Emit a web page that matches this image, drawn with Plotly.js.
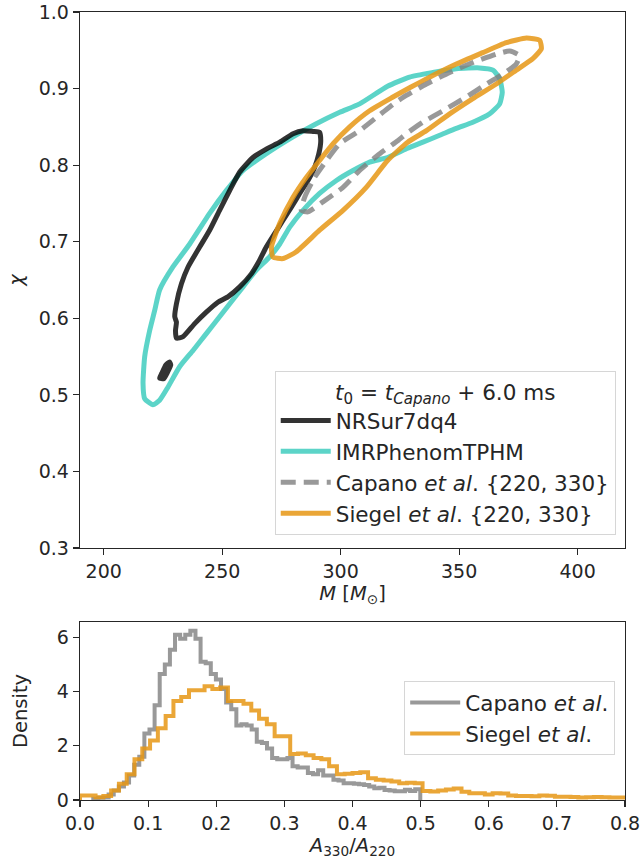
<!DOCTYPE html>
<html>
<head>
<meta charset="utf-8">
<script src="https://cdn.plot.ly/plotly-3.0.1.min.js"></script>
<style>html,body{margin:0;padding:0;background:#fff;}#chart{width:643px;height:867px;}</style>
</head>
<body>
<div id="chart"></div>
<script>
// ---- Top panel: 90% credible contours in (M, chi) ----
const nrsurM   = [284.1,288.3,291.1,291.6,290.8,289.0,286.2,282.7,279.2,275.7,272.2,268.6,265.8,262.3,257.4,252.4,248.2,243.3,238.4,233.5,230.7,230.3,230.7,230.0,230.7,232.8,235.6,240.5,244.7,248.9,253.2,257.4,263.0,268.6,274.3,279.9,284.1];
const nrsurChi = [0.845,0.844,0.843,0.832,0.815,0.797,0.780,0.763,0.745,0.728,0.711,0.693,0.676,0.658,0.641,0.628,0.621,0.608,0.593,0.576,0.574,0.584,0.595,0.602,0.619,0.645,0.667,0.693,0.715,0.741,0.767,0.791,0.810,0.821,0.830,0.841,0.845];
const nrsurIslandM   = [223.6,224.5,226.2,227.8,228.3,227.0,225.3,223.6];
const nrsurIslandChi = [0.522,0.528,0.539,0.543,0.539,0.530,0.521,0.522];

const imrM   = [220.8,217.3,216.6,217.3,219.4,221.5,223.6,229.2,236.3,244.7,251.8,258.8,268.6,279.9,289.7,299.6,308.0,319.8,329.1,338.9,348.8,358.6,364.3,367.1,368.2,367.1,362.9,355.8,348.8,341.8,334.7,328.3,319.8,312.2,305.2,298.2,291.1,284.1,278.5,274.3,270.0,264.4,258.8,253.2,248.9,243.3,237.7,232.1,227.1,223.6,220.8];
const imrChi = [0.487,0.495,0.515,0.550,0.584,0.610,0.637,0.667,0.697,0.737,0.767,0.793,0.815,0.837,0.854,0.869,0.880,0.903,0.915,0.921,0.926,0.927,0.924,0.913,0.895,0.880,0.867,0.856,0.848,0.839,0.830,0.822,0.810,0.804,0.793,0.780,0.763,0.741,0.719,0.697,0.680,0.663,0.641,0.619,0.602,0.580,0.558,0.537,0.510,0.493,0.487];

const capanoM   = [283.4,284.8,289.0,294.0,299.6,308.0,317.8,322.8,327.7,336.2,346.0,355.8,365.7,371.3,375.5,374.1,368.5,361.5,353.0,343.2,334.7,327.7,324.1,316.5,308.0,301.0,292.5,286.2,283.4];
const capanoChi = [0.741,0.758,0.784,0.806,0.828,0.845,0.869,0.881,0.891,0.906,0.921,0.934,0.945,0.949,0.943,0.932,0.919,0.906,0.889,0.871,0.856,0.841,0.832,0.815,0.793,0.771,0.752,0.739,0.741];

const siegelM   = [271.4,270.8,274.3,279.9,285.5,291.1,296.8,303.8,312.2,321.5,329.1,338.9,348.8,360.0,369.9,378.4,384.0,384.7,381.1,374.1,365.7,355.8,346.0,336.2,328.3,319.8,310.8,301.0,291.1,281.3,275.7,271.4];
const siegelChi = [0.680,0.693,0.724,0.758,0.784,0.806,0.828,0.850,0.871,0.888,0.901,0.917,0.932,0.947,0.960,0.966,0.963,0.952,0.939,0.924,0.906,0.887,0.867,0.845,0.830,0.806,0.771,0.741,0.715,0.687,0.678,0.680];

// ---- Bottom panel: A330/A220 histograms (density per bin) ----
const capanoBinStart = 0.0195, capanoBinWidth = 0.0075;
const capanoDensity = [0.05,0.08,0.09,0.2,0.35,0.5,0.65,0.9,1.3,1.6,
  2.45,2.6,3.5,4.65,5.0,5.55,6.1,5.95,6.1,6.25,
  5.95,5.1,5.05,4.65,4.45,4.1,3.6,3.35,2.75,2.8,
  2.75,2.6,2.15,2.1,1.9,1.55,1.5,1.5,1.55,1.25,
  1.2,1.2,1.0,0.95,1.1,0.9,0.9,0.75,0.72,0.62,
  0.62,0.6,0.58,0.55,0.5,0.43,0.45,0.37,0.35,0.32,
  0.32,0.38,0.33,0.4];
const siegelBinStart = 0.0, siegelBinWidth = 0.8/70;
const siegelDensity = [0.17,0.17,0.1,0.15,0.35,0.6,0.95,1.5,1.9,2.2,
  2.65,3.1,3.65,3.8,4.05,4.05,4.2,4.1,4.15,3.65,
  3.65,3.55,3.3,3.0,2.8,2.35,2.35,1.7,1.72,1.65,
  1.55,1.5,1.25,0.95,0.97,1.0,1.02,0.8,0.75,0.72,
  0.68,0.62,0.64,0.62,0.33,0.31,0.35,0.39,0.42,0.3,
  0.25,0.25,0.2,0.25,0.24,0.17,0.15,0.15,0.14,0.17,
  0.16,0.12,0.12,0.11,0.09,0.1,0.11,0.1,0.09,0.09];

const legendTitle = '<i>t</i><sub>0</sub> = <i>t</i><sub><i>Capano</i></sub> + 6.0 ms';
const names = ['NRSur7dq4','IMRPhenomTPHM','Capano <i>et al</i>. {220, 330}','Siegel <i>et al</i>. {220, 330}'];
const histNames = ['Capano <i>et al</i>.','Siegel <i>et al</i>.'];

// styles
const cBlack = 'rgba(0,0,0,0.8)';
const cTeal = 'rgba(64,205,190,0.85)';
const cOrange = 'rgba(230,150,20,0.85)';
const cGray = 'rgba(128,128,128,0.8)';
const txt = '#262626';
const FONT = 'DejaVu Sans, sans-serif';
const FS_TICK = 19;
const FS_LEG = 21.5;
const FS_TITLE = 19.5;

function stepXY(start, w, dens, closeEnd) {
  const x = [start], y = [0];
  for (let i = 0; i < dens.length; i++) { x.push(start + i * w); y.push(dens[i]); }
  if (closeEnd) { x.push(start + dens.length * w); y.push(0); }
  else { x.push(start + dens.length * w); y.push(dens[dens.length - 1]); }
  return {x, y};
}

const capStep = stepXY(capanoBinStart, capanoBinWidth, capanoDensity, true);
const sieStep = stepXY(siegelBinStart, siegelBinWidth, siegelDensity, false);

const contourLine = {shape:'spline', smoothing:0.5};

const data = [
  {x: imrM, y: imrChi, type:'scatter', mode:'lines', name:names[1], legendrank:2,
   line:Object.assign({color:cTeal, width:5}, contourLine), xaxis:'x', yaxis:'y', legend:'legend'},
  {x: nrsurM.concat([null], nrsurIslandM), y: nrsurChi.concat([null], nrsurIslandChi), type:'scatter', mode:'lines',
   name:names[0], legendrank:1, connectgaps:false,
   line:Object.assign({color:cBlack, width:5}, contourLine), xaxis:'x', yaxis:'y', legend:'legend'},
  {x: siegelM, y: siegelChi, type:'scatter', mode:'lines', name:names[3], legendrank:4,
   line:Object.assign({color:cOrange, width:5}, contourLine), xaxis:'x', yaxis:'y', legend:'legend'},
  {x: capanoM, y: capanoChi, type:'scatter', mode:'lines', name:names[2], legendrank:3,
   line:Object.assign({color:cGray, width:5, dash:'15px,8px'}, contourLine), xaxis:'x', yaxis:'y', legend:'legend'},
  {x: capStep.x, y: capStep.y, type:'scatter', mode:'lines', name:histNames[0], legendrank:1,
   line:{color:cGray, width:4, shape:'hv'}, xaxis:'x2', yaxis:'y2', legend:'legend2'},
  {x: sieStep.x, y: sieStep.y, type:'scatter', mode:'lines', name:histNames[1], legendrank:2,
   line:{color:cOrange, width:4, shape:'hv'}, xaxis:'x2', yaxis:'y2', legend:'legend2'}
];

const axBase = {
  showgrid:false, zeroline:false, showline:true, mirror:true, linecolor:txt, linewidth:1.25,
  ticks:'outside', ticklen:6, tickwidth:1.25, tickcolor:txt,
  tickfont:{family:FONT, size:FS_TICK, color:txt}
};
const titleFont = {family:FONT, size:FS_TITLE, color:txt};

const layout = {
  width:643, height:867,
  margin:{l:80, r:18, t:12, b:67},
  paper_bgcolor:'#fff', plot_bgcolor:'#fff',
  font:{family:FONT, size:FS_TICK, color:txt},
  showlegend:true,
  xaxis: Object.assign({}, axBase, {domain:[0,1], anchor:'y', range:[190,420], tickvals:[200,250,300,350,400],
    title:{text:'<i>M</i> [<i>M</i><sub>⊙</sub>]', font:titleFont, standoff:4}}),
  yaxis: Object.assign({}, axBase, {domain:[0.3198,1], anchor:'x', range:[0.3,1.0], dtick:0.1, tick0:0.3, tickformat:'.1f',
    title:{text:'<i>χ</i>', font:titleFont, standoff:10}}),
  xaxis2: Object.assign({}, axBase, {domain:[0,1], anchor:'y2', range:[0,0.8], dtick:0.1, tick0:0, tickformat:'.1f',
    title:{text:'<i>A</i><sub>330</sub>/<i>A</i><sub>220</sub>', font:titleFont, standoff:4}}),
  yaxis2: Object.assign({}, axBase, {domain:[0,0.2259], anchor:'x2', range:[0,6.57], tickvals:[0,2,4,6],
    title:{text:'Density', font:titleFont, standoff:24}}),
  legend: {x:0.983, xanchor:'right', y:0.3363, yanchor:'bottom', bgcolor:'#fff', bordercolor:'#d6d6d6', borderwidth:1,
    font:{family:FONT, size:FS_LEG, color:txt}, itemwidth:50, tracegroupgap:0,
    title:{text:legendTitle, side:'top center', font:{family:FONT, size:FS_LEG, color:txt}}},
  legend2: {x:0.982, xanchor:'right', y:0.104, yanchor:'middle', bgcolor:'#fff', bordercolor:'#d6d6d6', borderwidth:1,
    font:{family:FONT, size:FS_LEG, color:txt}, itemwidth:50}
};

Plotly.newPlot('chart', data, layout, {staticPlot:true, displayModeBar:false});
</script>
</body>
</html>
